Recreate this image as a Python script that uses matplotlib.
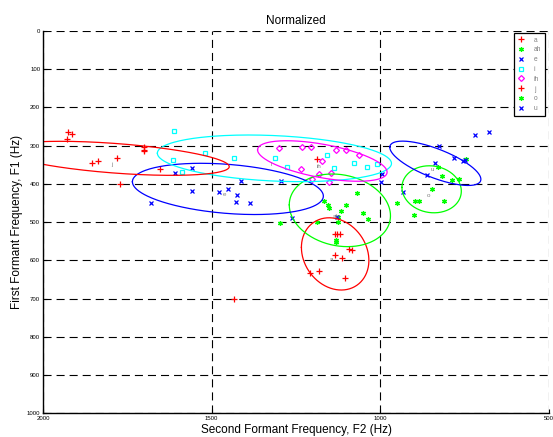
import numpy as np
import matplotlib
matplotlib.use('Agg')
import matplotlib.pyplot as plt

plt.rcParams['font.family'] = ['Liberation Sans', 'DejaVu Sans']
plt.rcParams['lines.scale_dashes'] = False

classes = ['a', 'ah', 'e', 'i', 'ih', 'j', 'o', 'u']

# F2 (Hz), F1 (Hz) per vowel
f2_a = [1134, 1128, 1120, 1092, 1083, 1134, 1113, 1181, 1208, 1105]
f1_a = [531, 531, 531, 571, 574, 585, 595, 627, 634, 647]
f2_ah = [1068, 1166, 1156, 1151, 1118, 1103, 1051, 1038, 1127, 1127, 1187, 1298, 1132, 1132, 1132]
f1_ah = [425, 444, 454, 464, 470, 456, 477, 492, 486, 499, 499, 501, 547, 551, 553]
f2_e = [1609, 1557, 1557, 1680, 1478, 1451, 1426, 1427, 1386, 1414, 1295, 1263, 1129]
f1_e = [371, 358, 419, 450, 421, 414, 430, 448, 450, 393, 393, 488, 486]
f2_i = [1611, 1614, 1587, 1519, 1433, 1313, 1278, 1157, 1137, 1077, 1039, 1009]
f1_i = [262, 337, 370, 318, 333, 333, 355, 324, 358, 346, 355, 348]
f2_ih = [1300, 1231, 1206, 1174, 1236, 1181, 1146, 1203, 1151, 1132, 1101, 1064]
f1_ih = [307, 303, 303, 340, 360, 375, 371, 386, 395, 310, 312, 325]
f2_j = [1925, 1915, 1928, 1854, 1838, 1780, 1773, 1700, 1700, 1700, 1653, 1434, 1189]
f1_j = [265, 270, 283, 346, 341, 333, 401, 303, 310, 314, 362, 702, 334]
f2_o = [747, 828, 816, 789, 766, 846, 896, 884, 811, 900, 952]
f1_o = [334, 355, 379, 390, 388, 414, 445, 445, 445, 480, 451]
f2_u = [719, 678, 826, 781, 754, 749, 838, 861, 932, 996, 998]
f1_u = [272, 265, 301, 332, 340, 338, 345, 377, 421, 373, 395]

# ellipse per vowel: centre, half extents, correlation
ell_f2 = [1134, 1120, 1452, 1314, 1172, 1784, 848, 837]
ell_f1 = [583, 469, 413, 333, 340, 333, 414, 346]
ell_r2 = [100, 150, 283, 347, 192, 336, 88, 135]
ell_r1 = [94.5, 95, 67, 61, 53, 44.5, 61.5, 58]
ell_rho = [-0.18, -0.15, -0.28, -0.22, -0.55, -0.49, -0.08, -0.72]

f2_all = [f2_a, f2_ah, f2_e, f2_i, f2_ih, f2_j, f2_o, f2_u]
f1_all = [f1_a, f1_ah, f1_e, f1_i, f1_ih, f1_j, f1_o, f1_u]

colors = ['#ff0000', '#00ff00', '#0000ff', '#00ffff', '#ff00ff', '#ff0000', '#00ff00', '#0000ff']
markers = ['+', (6, 2, 0), 'x', 's', 'D', '+', (6, 2, 0), 'x']
msizes = [4, 3.5, 2.2, 3.3, 3.0, 4, 3.5, 2.2]

fig = plt.figure(figsize=(5.53, 4.37), dpi=100)
ax = fig.add_axes([0.0778, 0.0542, 0.915, 0.8748])

for k, name in enumerate(classes):
    ax.plot(f2_all[k], f1_all[k], linestyle='none', marker=markers[k], color=colors[k],
            markersize=msizes[k], markeredgewidth=0.9, markerfacecolor='none', label=name)

t = np.linspace(0, 2 * np.pi, 300)
for k, name in enumerate(classes):
    rho = ell_rho[k]
    ex = ell_f2[k] + ell_r2[k] * np.cos(t)
    ey = ell_f1[k] + ell_r1[k] * (rho * np.cos(t) + np.sqrt(1 - rho ** 2) * np.sin(t))
    ax.plot(ex, ey, color=colors[k], linewidth=0.9)
    ax.annotate(name, (ell_f2[k], ell_f1[k]), xytext=(-3.5, -5.8), textcoords='offset pixels',
                ha='center', va='center', fontsize=4.5, color='#808080')

ax.set_xlim(2000, 500)
ax.set_ylim(1000, 0)
ax.set_xticks([2000, 1500, 1000, 500])
ax.set_yticks(np.arange(0, 1001, 100))
ax.tick_params(direction='in', length=3, width=0.8, labelsize=4.3, pad=2)
ax.grid(True, color='black', linestyle=(0, (5.8, 3.6)), linewidth=0.8)
ax.spines['top'].set_visible(False)
ax.spines['right'].set_visible(False)
ax.spines['left'].set_linewidth(1)
ax.spines['bottom'].set_linewidth(1)

ax.set_title('Normalized', fontsize=8.5, pad=5)
ax.set_xlabel('Second Formant Frequency, F2 (Hz)', fontsize=8.5, labelpad=2)
ax.set_ylabel('First Formant Frequency, F1 (Hz)', fontsize=8.5, labelpad=3)

leg = ax.legend(loc='upper right', bbox_to_anchor=(0.992, 0.995), fontsize=4.8, frameon=True,
                fancybox=False, edgecolor='black', framealpha=1, handlelength=1.2,
                labelspacing=0.42, borderpad=0.55, handletextpad=1.3, borderaxespad=0)
leg.get_frame().set_linewidth(0.9)
for txt in leg.get_texts():
    txt.set_color('#808080')

fig.savefig('out.png', dpi=100)
